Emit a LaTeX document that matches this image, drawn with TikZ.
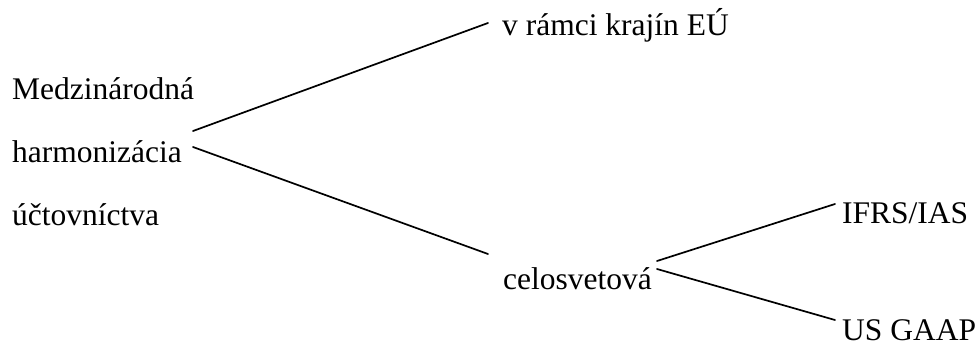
\documentclass[tikz,border=0pt]{standalone}
\usepackage{fontspec}
\setmainfont{Liberation Serif}
\begin{document}
\begin{tikzpicture}[x=1pt,y=-1pt,
  lbl/.style={anchor=base west,inner sep=0pt,font=\fontsize{31.5}{36}\selectfont},
  conn/.style={line width=1.7pt,line cap=round}]
\useasboundingbox (0,0) rectangle (980,356);
\node[lbl] (med) at (12,99) {Medzinárodná};
\node[lbl] (harm) at (12,162) {harmonizácia};
\node[lbl] (uct) at (12,225) {účtovníctva};
\node[lbl] (eu) at (502,35) {v rámci krajín EÚ};
\node[lbl] (cel) at (503,289) {celosvetová};
\node[lbl] (ifrs) at (842,223) {IFRS/IAS};
\node[lbl] (us) at (842,340) {US GAAP};
\coordinate (h1) at (193,131);
\coordinate (h2) at (193,147);
\coordinate (e1) at (488,23);
\coordinate (c0) at (488,254);
\coordinate (c1) at (657,261);
\coordinate (c2) at (657,269);
\coordinate (i1) at (835,204);
\coordinate (u1) at (835,320);
\draw[conn] (h1) -- (e1);
\draw[conn] (h2) -- (c0);
\draw[conn] (c1) -- (i1);
\draw[conn] (c2) -- (u1);
\end{tikzpicture}
\end{document}
